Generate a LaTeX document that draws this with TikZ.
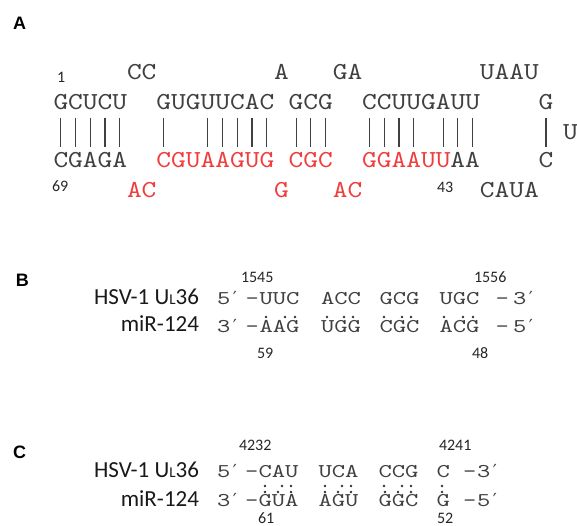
\documentclass[tikz,border=0pt]{standalone}
\usepackage{fontspec}
\setmainfont{Carlito}
\newfontfamily\seqfont{lmmono10-regular.otf}[FakeStretch=1.15]
\newfontfamily\seqfontB{lmmono10-regular.otf}[FakeStretch=1.3]
\newfontfamily\panelfont{Liberation Sans}
\newfontfamily\primefont{DejaVu Sans}
\definecolor{seqgray}{RGB}{64,64,64}
\definecolor{seqred}{RGB}{240,60,60}
\newcommand\smallL{{\fontsize{15}{15}\selectfont L}}
\newcommand\pr{{\kern2.5pt\primefont\fontsize{18}{18}\selectfont ′}}

\begin{document}
\begin{tikzpicture}[x=1pt,y=-1pt,
  every node/.style={inner sep=0pt, outer sep=0pt, anchor=base west},
  seqA/.style={font=\seqfont\fontsize{24.4}{25}\selectfont, text=seqgray},
  seqAr/.style={seqA, text=seqred},
  seqB/.style={font=\seqfontB\fontsize{19.5}{20}\selectfont, text=seqgray},
  numlbl/.style={font=\fontsize{16}{16}\selectfont, text=black!85},
  panellbl/.style={font=\panelfont\bfseries\fontsize{18}{18}\selectfont},
  strand/.style={font=\fontsize{23}{23}\selectfont, anchor=base east, text=black!90},
  pairbar/.style={draw=seqgray, line width=1.1pt},
  pdot/.style={fill=black!80, draw=none, circle, minimum size=2.6pt, inner sep=0pt, anchor=center}
]
\useasboundingbox (0,0) rectangle (577,526);

% ---------------- panel A: hairpin ----------------
\node[panellbl] (labA) at (13,30) {A};
\newcommand\cA[1]{53.5+14.7*#1}

% unpaired bases, upper strand
\node[seqA] (a1) at ({\cA{5}},80) {CC};
\node[seqA] (a2) at ({\cA{15}},80) {A};
\node[seqA] (a3) at ({\cA{19}},80) {GA};
\node[seqA] (a4) at ({\cA{29}},80) {UAAU};
% paired bases, upper strand
\node[seqA] (p1) at ({\cA{0}},110) {GCUCU};
\node[seqA] (p2) at ({\cA{7}},110) {GUGUUCAC};
\node[seqA] (p3) at ({\cA{16}},110) {GCG};
\node[seqA] (p4) at ({\cA{21}},110) {CCUUGAUU};
\node[seqA] (p5) at ({\cA{33}},110) {G};
% loop base
\node[seqA] (loopU) at (563,140) {U};
% paired bases, lower strand
\node[seqA]  (q1) at ({\cA{0}},168) {CGAGA};
\node[seqAr] (q2) at ({\cA{7}},168) {CGUAAGUG};
\node[seqAr] (q3) at ({\cA{16}},168) {CGC};
\node[seqAr] (q4) at ({\cA{21}},168) {GGAAUU};
\node[seqA]  (q4b) at ({\cA{27}},168) {AA};
\node[seqA]  (q5) at ({\cA{33}},168) {C};
% unpaired bases, lower strand
\node[seqAr] (b1) at ({\cA{5}},198) {AC};
\node[seqAr] (b2) at ({\cA{15}},198) {G};
\node[seqAr] (b3) at ({\cA{19}},198) {AC};
\node[seqA]  (b4) at ({\cA{29}},198) {CAUA};
% position numbers
\node[numlbl] (n1)  at (57,83) {1};
\node[numlbl] (n69) at (52,192) {69};
\node[numlbl] (n43) at (437,193) {43};
% base-pair bars
\foreach \c in {0,1,2,3,4,7,10,11,12,13,14,16,17,18,21,22,23,24,26,27,28,33} {
  \coordinate (bt\c) at ({\cA{(\c+0.5)}},118);
  \coordinate (bb\c) at ({\cA{(\c+0.5)}},147);
  \draw[pairbar] (bt\c) -- (bb\c);
}

% ---------------- panel B ----------------
\node[panellbl] (labB) at (16,286) {B};
\node[strand] (hsvB) at (199,304) {HSV-1 U\smallL36};
\node[strand] (mirB) at (199,331) {miR-124};
\node[numlbl] (n1545) at (241,282) {1545};
\node[numlbl] (n1556) at (474,282) {1556};
\node[numlbl] (n59) at (257,358) {59};
\node[numlbl] (n48) at (472,358) {48};

\node[seqB] (bu0) at (217,304) {5\pr};
\node[seqB] (bu1) at (245.5,304) {-};
\node[seqB] (bu2) at (259.5,304) {UUC};
\node[seqB] (bu3) at (321,304) {ACC};
\node[seqB] (bu4) at (379.5,304) {GCG};
\node[seqB] (bu5) at (439.5,304) {UGC};
\node[seqB] (bu6) at (495.5,304) {-};
\node[seqB] (bu7) at (513,304) {3\pr};

\node[seqB] (bl0) at (217,332) {3\pr};
\node[seqB] (bl1) at (245.5,332) {-};
\node[seqB] (bl2) at (259.5,332) {AAG};
\node[seqB] (bl3) at (321,332) {UGG};
\node[seqB] (bl4) at (379.5,332) {CGC};
\node[seqB] (bl5) at (439.5,332) {ACG};
\node[seqB] (bl6) at (495.5,332) {-};
\node[seqB] (bl7) at (513,332) {5\pr};

\foreach \x [count=\i] in {266,285,295,327,344,353,384,402,411,444,463,473}
  \node[pdot] (bd\i) at (\x,317) {};

% ---------------- panel C ----------------
\node[panellbl] (labC) at (13,458) {C};
\node[strand] (hsvC) at (199,477) {HSV-1 U\smallL36};
\node[strand] (mirC) at (199,506) {miR-124};
\node[numlbl] (n4232) at (239,450) {4232};
\node[numlbl] (n4241) at (439,450) {4241};
\node[numlbl] (n61) at (258,523) {61};
\node[numlbl] (n52) at (437,523) {52};

\node[seqB] (cu0) at (217,477) {5\pr};
\node[seqB] (cu1) at (245,477) {-};
\node[seqB] (cu2) at (258.5,477) {CAU};
\node[seqB] (cu3) at (318.5,477) {UCA};
\node[seqB] (cu4) at (378.5,477) {CCG};
\node[seqB] (cu5) at (436.5,477) {C};
\node[seqB] (cu6) at (463,477) {-};
\node[seqB] (cu7) at (477,477) {3\pr};

\node[seqB] (cl0) at (217,506) {3\pr};
\node[seqB] (cl1) at (245,506) {-};
\node[seqB] (cl2) at (258.5,506) {GUA};
\node[seqB] (cl3) at (318.5,506) {AGU};
\node[seqB] (cl4) at (378.5,506) {GGC};
\node[seqB] (cl5) at (436.5,506) {G};
\node[seqB] (cl6) at (463,506) {-};
\node[seqB] (cl7) at (477,506) {5\pr};

\foreach \x [count=\i] in {265,282,291,325,342,351,384,402,411,442}
  \node[pdot] (cd\i) at (\x,486) {};
\foreach \x [count=\i] in {265,278,291,325,338,351,385,398,411,442}
  \node[pdot] (ce\i) at (\x,492) {};
\end{tikzpicture}
\end{document}
